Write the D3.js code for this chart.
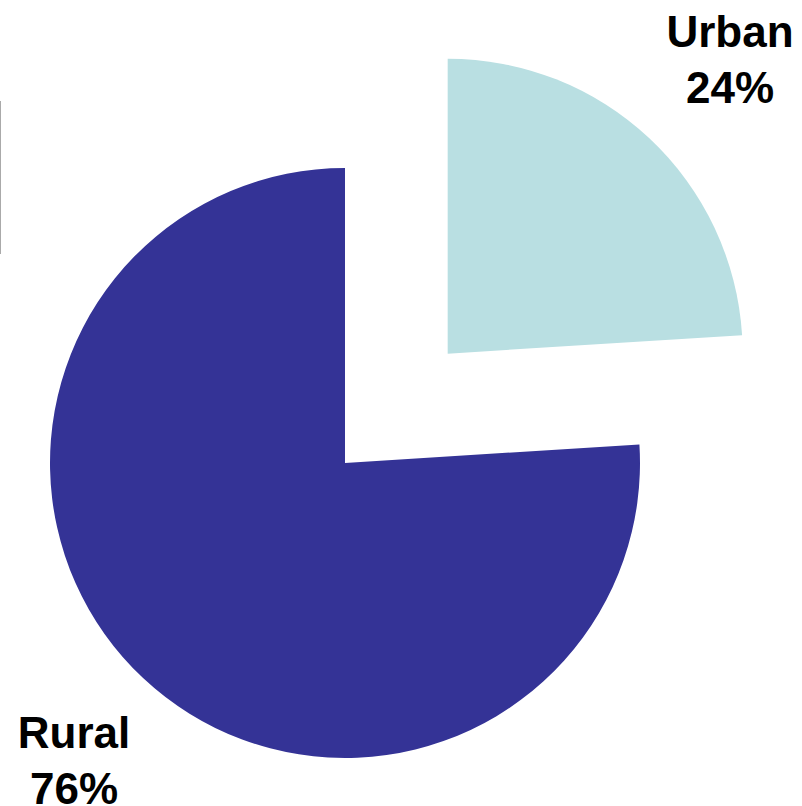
<!DOCTYPE html>
<html>
<head>
<meta charset="utf-8">
<script src="https://cdn.jsdelivr.net/npm/d3@7/dist/d3.min.js"></script>
<style>
  html, body { margin: 0; padding: 0; background: #fff; }
  svg { display: block; }
  .lbl { font-family: "Liberation Sans", Arial, sans-serif; font-weight: bold; font-size: 44px; fill: #000; }
</style>
</head>
<body>
<svg id="chart" width="802" height="806"></svg>
<script>
var categories = ['Urban', 'Rural'];
var shares = [24, 76];
var colors = ['#b9dfe2', '#343396'];

var width = 802, height = 806;
var cx = 345, cy = 463, radius = 295;
var explode = [150, 0]; // pull-out distance per slice

var svg = d3.select('#chart');

// thin stray rule at the left edge
svg.append('line')
    .attr('x1', 0.5).attr('x2', 0.5)
    .attr('y1', 101).attr('y2', 254)
    .attr('stroke', '#aaaaaa').attr('stroke-width', 1);

var pie = d3.pie().sort(null).value(function(d) { return d; });
var arc = d3.arc().innerRadius(0).outerRadius(radius);
var arcs = pie(shares);

var g = svg.append('g').attr('transform', 'translate(' + cx + ',' + cy + ')');

g.selectAll('path.slice')
    .data(arcs)
    .enter().append('path')
    .attr('class', 'slice')
    .attr('d', arc)
    .attr('fill', function(d, i) { return colors[i]; })
    .attr('transform', function(d, i) {
        var mid = (d.startAngle + d.endAngle) / 2;
        var dx = Math.sin(mid) * explode[i];
        var dy = -Math.cos(mid) * explode[i];
        return 'translate(' + dx + ',' + dy + ')';
    });

// labels
var labelPos = [
    {x: 730, y: 47},
    {x: 74, y: 748}
];
var lineGap = 56;

categories.forEach(function(c, i) {
    var t = svg.append('text')
        .attr('class', 'lbl')
        .attr('text-anchor', 'middle')
        .attr('x', labelPos[i].x)
        .attr('y', labelPos[i].y);
    t.append('tspan').attr('x', labelPos[i].x).text(c);
    t.append('tspan').attr('x', labelPos[i].x).attr('dy', lineGap).text(shares[i] + '%');
});
</script>
</body>
</html>
